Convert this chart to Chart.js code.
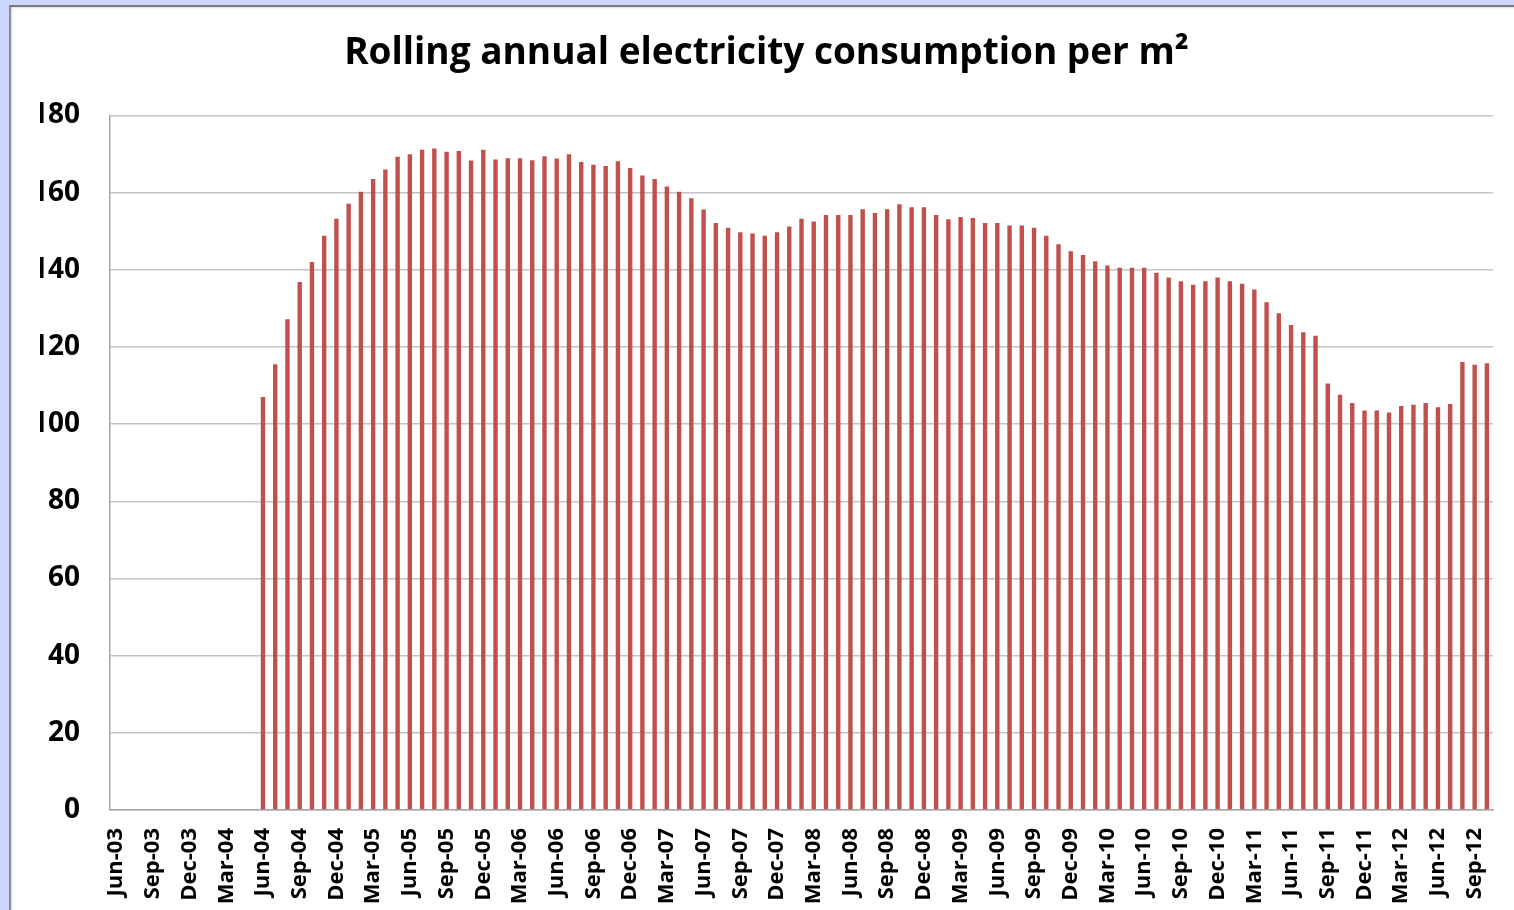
<!DOCTYPE html>
<html>
<head>
<meta charset="utf-8">
<script src="https://cdn.jsdelivr.net/npm/chart.js@4"></script>
<style>
    html, body { margin: 0; padding: 0; background: #ccd8fb; overflow: hidden; }
    body { width: 100%; height: 100vh; position: relative; }
    #frame {
        position: absolute; left: 9px; top: 5px; width: 1700px; height: 1100px;
        background: #fff;
        border-left: 2px solid #8c8c8c;
        border-top: 2px solid #7a7a7a;
        box-shadow: inset 1px 1px 2px rgba(0,0,0,0.15);
    }
    #chart { position: absolute; left: 0; top: 0; }
</style>
</head>
<body>
<div id="frame"></div>
<canvas id="chart" width="1514" height="910"></canvas>
<script>
// mesice Jun-03 .. Oct-12
const months = [
    'Jun-03', 'Jul-03', 'Aug-03', 'Sep-03', 'Oct-03', 'Nov-03', 'Dec-03',
    'Jan-04', 'Feb-04', 'Mar-04', 'Apr-04', 'May-04', 'Jun-04', 'Jul-04', 'Aug-04', 'Sep-04', 'Oct-04', 'Nov-04', 'Dec-04',
    'Jan-05', 'Feb-05', 'Mar-05', 'Apr-05', 'May-05', 'Jun-05', 'Jul-05', 'Aug-05', 'Sep-05', 'Oct-05', 'Nov-05', 'Dec-05',
    'Jan-06', 'Feb-06', 'Mar-06', 'Apr-06', 'May-06', 'Jun-06', 'Jul-06', 'Aug-06', 'Sep-06', 'Oct-06', 'Nov-06', 'Dec-06',
    'Jan-07', 'Feb-07', 'Mar-07', 'Apr-07', 'May-07', 'Jun-07', 'Jul-07', 'Aug-07', 'Sep-07', 'Oct-07', 'Nov-07', 'Dec-07',
    'Jan-08', 'Feb-08', 'Mar-08', 'Apr-08', 'May-08', 'Jun-08', 'Jul-08', 'Aug-08', 'Sep-08', 'Oct-08', 'Nov-08', 'Dec-08',
    'Jan-09', 'Feb-09', 'Mar-09', 'Apr-09', 'May-09', 'Jun-09', 'Jul-09', 'Aug-09', 'Sep-09', 'Oct-09', 'Nov-09', 'Dec-09',
    'Jan-10', 'Feb-10', 'Mar-10', 'Apr-10', 'May-10', 'Jun-10', 'Jul-10', 'Aug-10', 'Sep-10', 'Oct-10', 'Nov-10', 'Dec-10',
    'Jan-11', 'Feb-11', 'Mar-11', 'Apr-11', 'May-11', 'Jun-11', 'Jul-11', 'Aug-11', 'Sep-11', 'Oct-11', 'Nov-11', 'Dec-11',
    'Jan-12', 'Feb-12', 'Mar-12', 'Apr-12', 'May-12', 'Jun-12', 'Jul-12', 'Aug-12', 'Sep-12', 'Oct-12'
];

// kWh na m2, klouzavy rocni soucet (prvni rok bez dat)
const noData = [null, null, null, null, null, null, null, null, null, null, null, null];
const values2004 = [107.0, 115.5, 127.2, 136.8, 142.0, 148.8, 153.2];
const values2005 = [157.1, 160.2, 163.5, 166.0, 169.3, 169.9, 171.1, 171.4, 170.6, 170.8, 168.3, 171.1];
const values2006 = [168.6, 168.9, 168.9, 168.4, 169.4, 168.8, 169.9, 167.9, 167.2, 166.9, 168.1, 166.4];
const values2007 = [164.4, 163.5, 161.6, 160.2, 158.5, 155.6, 152.1, 150.9, 149.7, 149.4, 148.8, 149.7];
const values2008 = [151.2, 153.2, 152.5, 154.2, 154.2, 154.2, 155.7, 154.7, 155.7, 157.0, 156.2, 156.2];
const values2009 = [154.2, 153.1, 153.7, 153.4, 152.1, 152.1, 151.5, 151.5, 150.9, 148.8, 146.6, 144.8];
const values2010 = [143.8, 142.2, 141.1, 140.5, 140.5, 140.5, 139.2, 138.0, 137.0, 136.1, 137.0, 138.0];
const values2011 = [137.0, 136.4, 134.9, 131.6, 128.7, 125.7, 123.8, 122.9, 110.5, 107.6, 105.5, 103.5];
const values2012 = [103.5, 103.0, 104.7, 105.0, 105.5, 104.4, 105.2, 116.1, 115.4, 115.8];

const yTicks = [0, 20, 40, 60, 80, 100, 120, 140, 160, 180];

const consumption = [].concat(noData, values2004, values2005, values2006, values2007,
    values2008, values2009, values2010, values2011, values2012);

const FONT = "'Open Sans', 'DejaVu Sans', sans-serif";

const ctx = document.getElementById('chart').getContext('2d');
new Chart(ctx, {
    type: 'bar',
    data: {
        labels: months,
        datasets: [{
            label: 'Electricity per m²',
            data: consumption,
            backgroundColor: '#c0504d',
            borderWidth: 0,
            barPercentage: 0.36,
            categoryPercentage: 1.0
        }]
    },
    options: {
        responsive: false,
        animation: false,
        layout: {
            padding: { left: 40, right: 21, top: 0, bottom: 0 }
        },
        scales: {
            x: {
                grid: { display: false },
                border: { display: true, color: '#a6a6a6', width: 1.5 },
                ticks: {
                    autoSkip: false,
                    maxRotation: 90,
                    minRotation: 90,
                    padding: 10,
                    color: '#000',
                    font: { family: FONT, size: 22, weight: 'bold' },
                    callback: function (value, index) {
                        return index % 3 === 0 ? months[index] : '';
                    }
                },
                afterFit: function (scale) {
                    scale.height = 100;
                    scale.paddingLeft = 0;
                    scale.paddingRight = 0;
                }
            },
            y: {
                min: 0,
                max: 180,
                afterBuildTicks: function (scale) {
                    scale.ticks = yTicks.map(v => ({ value: v }));
                },
                grid: { color: '#c3c3c3', lineWidth: 1.5, drawTicks: false },
                border: { display: true, color: '#a6a6a6', width: 1.5 },
                ticks: {
                    padding: 30,
                    color: '#000',
                    font: { family: FONT, size: 28, weight: 'bold' }
                },
                afterFit: function (scale) { scale.width = 70; }
            }
        },
        plugins: {
            legend: { display: false },
            tooltip: { enabled: false },
            title: {
                display: true,
                text: 'Rolling annual electricity consumption per m²',
                color: '#000',
                font: { family: FONT, size: 37, weight: 'bold', lineHeight: 1.2 },
                padding: { top: 31, bottom: 40 }
            }
        }
    }
});
</script>
</body>
</html>
